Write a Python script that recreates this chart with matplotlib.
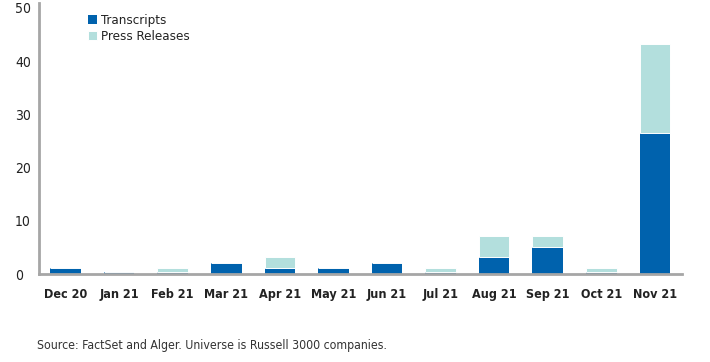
import matplotlib.pyplot as plt
import numpy as np

# Monthly mentions
months = ["Dec 20", "Jan 21", "Feb 21", "Mar 21", "Apr 21", "May 21",
          "Jun 21", "Jul 21", "Aug 21", "Sep 21", "Oct 21", "Nov 21"]
transcripts = [1.1, 0.4, 0.4, 2.1, 1.1, 1.1, 2.1, 0.4, 3.2, 5.2, 0.4, 26.6]
press_releases = [0.0, 0.0, 0.7, 0.0, 2.1, 0.0, 0.0, 0.7, 4.0, 2.0, 0.7, 16.7]
yticks = [0, 10, 20, 30, 40, 50]

dark_blue = "#0062ad"
light_teal = "#b3dfdd"
axis_grey = "#a6a6a6"

plt.rcParams['font.family'] = ['DejaVu Sans']
plt.rcParams['font.stretch'] = 'condensed'

fig = plt.figure(figsize=(7.1, 3.62), dpi=100)
ax = fig.add_axes([0.0554, 0.2423, 0.9046, 0.7494])

x = np.arange(len(months))
ax.bar(x, transcripts, width=0.57, color=dark_blue, linewidth=0,
       label="Transcripts")
ax.bar(x, press_releases, width=0.57, bottom=transcripts, color=light_teal,
       edgecolor="white", linewidth=0.7, label="Press Releases")

ax.set_xlim(-0.49, 11.5)
ax.set_ylim(0, 50.9)
ax.set_yticks(yticks)
ax.set_xticks(x)
ax.set_xticklabels(months, fontsize=9, fontweight="bold", color="#222222")
ax.set_yticklabels([str(t) for t in yticks], fontsize=10, color="#222222")
ax.tick_params(length=0)
ax.tick_params(axis="x", pad=10)
ax.tick_params(axis="y", pad=17.5)
for lbl in ax.get_yticklabels():
    lbl.set_horizontalalignment("left")

for side in ["top", "right"]:
    ax.spines[side].set_visible(False)
for side in ["left", "bottom"]:
    ax.spines[side].set_color(axis_grey)
    ax.spines[side].set_linewidth(2)

leg = ax.legend(loc="upper left", bbox_to_anchor=(0.061, 0.993), frameon=False,
                fontsize=9.5, handlelength=0.7, handleheight=0.7,
                handletextpad=0.3, labelspacing=0.2, borderpad=0.2)
for t in leg.get_texts():
    t.set_color("#222222")

fig.text(0.052, 0.035, "Source: FactSet and Alger. Universe is Russell 3000 companies.",
         fontsize=8.8, color="#333333")

fig.savefig("out.png", dpi=100)
